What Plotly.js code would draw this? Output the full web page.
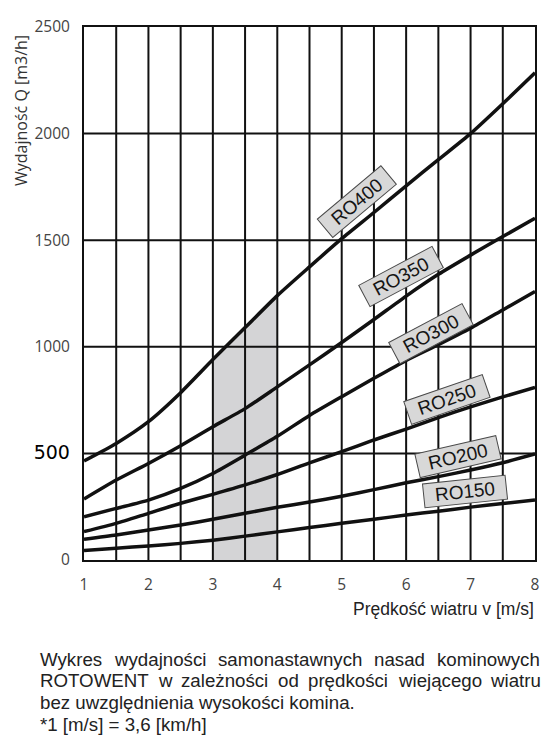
<!DOCTYPE html>
<html>
<head>
<meta charset="utf-8">
<script src="https://cdn.plot.ly/plotly-3.0.1.min.js"></script>
<style>
  html, body { margin: 0; padding: 0; background: #fff; }
  #chart { width: 550px; height: 750px; }
</style>
</head>
<body>
<div id="chart"></div>
<script>
  // wind speed v [m/s]
  var windSpeed = [1, 1.5, 2, 2.5, 3, 3.5, 4, 4.5, 5, 5.5, 6, 6.5, 7, 7.5, 8];

  // capacity Q [m3/h]
  var ro150 = [44, 55, 66, 78, 93, 112, 132, 152, 172, 191, 211, 229, 248, 265, 281];
  var ro200 = [97, 117, 141, 164, 191, 219, 247, 272, 299, 330, 362, 391, 422, 456, 497];
  var ro250 = [133, 172, 219, 266, 308, 352, 401, 456, 508, 563, 614, 668, 718, 765, 810];
  var ro300 = [203, 242, 281, 336, 406, 492, 580, 678, 766, 852, 936, 1010, 1087, 1173, 1259];
  var ro350 = [286, 375, 453, 536, 625, 710, 812, 915, 1020, 1128, 1238, 1340, 1430, 1517, 1603];
  var ro400 = [465, 547, 649, 785, 940, 1090, 1240, 1375, 1507, 1630, 1755, 1878, 2000, 2140, 2285];

  var seriesNames = ["RO150", "RO200", "RO250", "RO300", "RO350", "RO400"];
  var seriesValues = [ro150, ro200, ro250, ro300, ro350, ro400];

  // shaded wind range under RO400
  var bandFrom = 3;
  var bandTo = 4;

  var xTickVals = [1, 2, 3, 4, 5, 6, 7, 8];
  var yTickVals = [0, 500, 1000, 1500, 2000, 2500];
  var xGridVals = [1.5, 2, 2.5, 3, 3.5, 4, 4.5, 5, 5.5, 6, 6.5, 7, 7.5];
  var yGridVals = [500, 1000, 1500, 2000];

  var captionLines = [
    "Wykres wydajności samonastawnych nasad kominowych",
    "ROTOWENT w zależności od prędkości wiejącego wiatru",
    "bez uwzględnienia wysokości komina.",
    "*1 [m/s] = 3,6 [km/h]"
  ];

  // ---- layout helpers (pixel -> paper) ----
  var W = 550, H = 750;
  var M = { l: 84, r: 15, t: 27, b: 190, pad: 0 };
  var plotW = W - M.l - M.r;
  var plotH = H - M.t - M.b;
  function px(x) { return (x - M.l) / plotW; }
  function py(y) { return (H - M.b - y) / plotH; }

  var INK = "#111";
  var CAPTION_FONT = "Liberation Sans, Arial, sans-serif";

  // label boxes: [series index, x, y, angle] in data units
  var labelPlacement = [
    [5, 5.24, 1680, -40],
    [4, 5.92, 1330, -28],
    [3, 6.39, 1062, -28],
    [2, 6.63, 752, -19],
    [1, 6.81, 485, -13],
    [0, 6.92, 322, -6]
  ];

  var traces = [];

  var bandX = [], bandY = [];
  windSpeed.forEach(function (v, i) {
    if (v >= bandFrom && v <= bandTo) {
      bandX.push(v);
      bandY.push(ro400[i]);
    }
  });
  traces.push({
    x: bandX, y: bandY, type: "scatter", mode: "lines",
    line: { width: 0, shape: "spline", smoothing: 0.6 },
    fill: "tozeroy", fillcolor: "#d4d4d6", hoverinfo: "skip"
  });

  seriesValues.forEach(function (vals, i) {
    traces.push({
      x: windSpeed, y: vals, type: "scatter", mode: "lines",
      name: seriesNames[i],
      line: { color: INK, width: 3.5, shape: "spline", smoothing: 0.6 }
    });
  });

  // grid drawn as shapes so it stays visible over the shaded band
  var shapes = [];
  xGridVals.forEach(function (v) {
    shapes.push({ type: "line", layer: "above", xref: "x", yref: "paper",
      x0: v, x1: v, y0: 0, y1: 1, line: { color: INK, width: 2 } });
  });
  yGridVals.forEach(function (v) {
    shapes.push({ type: "line", layer: "above", xref: "paper", yref: "y",
      x0: 0, x1: 1, y0: v, y1: v, line: { color: INK, width: 2 } });
  });

  var annotations = [];

  labelPlacement.forEach(function (p) {
    annotations.push({
      xref: "x", yref: "y", x: p[1], y: p[2],
      xanchor: "center", yanchor: "middle",
      text: seriesNames[p[0]], showarrow: false, textangle: p[3],
      font: { family: CAPTION_FONT, size: 19, color: "#151515" },
      bgcolor: "#d8d8d8", bordercolor: "#4a4a4a", borderwidth: 1,
      borderpad: 1, width: 80, height: 21
    });
  });

  annotations.push({
    xref: "paper", yref: "paper", x: px(21), y: py(111),
    xanchor: "center", yanchor: "middle",
    text: "Wydajność Q [m3/h]", textangle: -90, showarrow: false,
    font: { family: "Open Sans, sans-serif", size: 16, color: "#333" }
  });
  annotations.push({
    xref: "paper", yref: "paper", x: px(536), y: py(609),
    xanchor: "right", yanchor: "middle",
    text: "Prędkość wiatru v [m/s]", showarrow: false,
    font: { family: CAPTION_FONT, size: 17.5, color: "#222" }
  });

  // caption: first two lines justified between left and right edges
  var capLeft = 39, capRight = 539, capTop = 659, capStep = 21.8, capSize = 18.7;
  var ctx = document.createElement("canvas").getContext("2d");
  ctx.font = capSize + "px 'Liberation Sans'";
  captionLines.forEach(function (line, i) {
    var yy = py(capTop + i * capStep);
    var capFont = { family: CAPTION_FONT, size: capSize, color: "#222" };
    if (i < 2) {
      var words = line.split(" ");
      var widths = words.map(function (w) { return ctx.measureText(w).width; });
      var total = widths.reduce(function (a, b) { return a + b; }, 0);
      var gap = (capRight - capLeft - total) / (words.length - 1);
      var cx = capLeft;
      words.forEach(function (w, k) {
        annotations.push({ xref: "paper", yref: "paper", x: px(cx), y: yy,
          xanchor: "left", yanchor: "middle", text: w, showarrow: false,
          borderpad: 0, font: capFont });
        cx += widths[k] + gap;
      });
    } else {
      annotations.push({ xref: "paper", yref: "paper", x: px(capLeft), y: yy,
        xanchor: "left", yanchor: "middle", text: line, showarrow: false,
        borderpad: 0, font: capFont });
    }
  });

  var tickFont = { family: "Open Sans, sans-serif", size: 15.5, color: "#444" };
  var yTickText = yTickVals.map(function (v) {
    if (v === 500) {
      return '<span style="font-family:DejaVu Sans;font-size:19px;color:#000">500</span>';
    }
    return String(v);
  });

  var layout = {
    width: W, height: H,
    margin: M,
    paper_bgcolor: "#fff", plot_bgcolor: "#fff",
    showlegend: false, hovermode: false,
    xaxis: {
      range: [1, 8], autorange: false, fixedrange: true,
      tickmode: "array", tickvals: xTickVals, ticktext: xTickVals.map(String),
      ticks: "", ticklabelstandoff: 9, tickfont: tickFont,
      showgrid: false, zeroline: false,
      showline: true, mirror: true, linecolor: INK, linewidth: 2
    },
    yaxis: {
      range: [0, 2500], autorange: false, fixedrange: true,
      tickmode: "array", tickvals: yTickVals, ticktext: yTickText,
      ticks: "", ticklabelstandoff: 9, tickfont: tickFont,
      showgrid: false, zeroline: false,
      showline: true, mirror: true, linecolor: INK, linewidth: 2
    },
    shapes: shapes,
    annotations: annotations
  };

  Plotly.newPlot("chart", traces, layout, { displayModeBar: false, staticPlot: true });
</script>
</body>
</html>
